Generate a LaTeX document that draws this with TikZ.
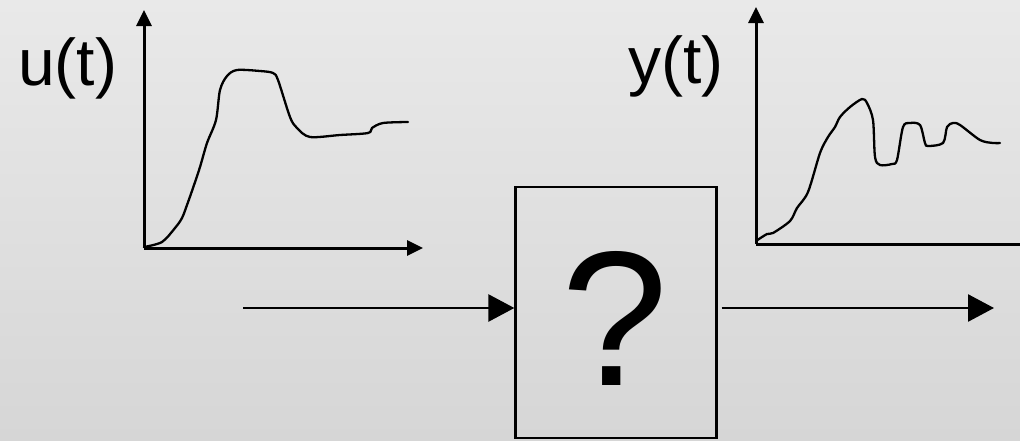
\documentclass[tikz,border=0pt]{standalone}
\usepackage{fontspec}
\setmainfont{Liberation Sans}
\usetikzlibrary{arrows.meta}
\definecolor{bgtop}{HTML}{E9E9E9}
\definecolor{bgbot}{HTML}{D6D6D6}
\begin{document}
\begin{tikzpicture}[x=1pt,y=-1pt,
  axis/.style={line width=3pt,-{Triangle[length=16pt,width=15pt]}},
  sig/.style={line width=2.3pt,line cap=round,line join=round},
  flow/.style={line width=2.6pt,-{Triangle[length=26pt,width=27pt]}},
  blockbox/.style={draw,line width=2.3pt,minimum width=201pt,minimum height=251pt,inner sep=0pt},
  lab/.style={font=\fontsize{66}{66}\selectfont,inner sep=0pt,anchor=base west}]
\useasboundingbox (0,0) rectangle (1020,440);
\shade[top color=bgtop,bottom color=bgbot] (0,0) rectangle (1020,440);
\clip (0,0) rectangle (1020,440);
% labels
\node[lab] (ulab) at (18,85) {u(t)};
\node[lab] (ylab) at (628,83) {y(t)};
% left axes
\coordinate (lo) at (144,248);
\coordinate (ltop) at (144,10);
\coordinate (lright) at (423,248);
\draw[axis] (lo) -- (ltop);
\draw[axis] (lo) -- (lright);
% right axes
\coordinate (ro) at (756,244);
\coordinate (rtop) at (756,7);
\coordinate (rright) at (1036,244);
\draw[axis] (ro) -- (rtop);
\draw[axis] (ro) -- (rright);
% input signal
\draw[sig] plot[smooth,tension=0.5] coordinates {(144,247) (162,242) (175,228) (182,218) (187,205) (193,188) (200,167) (207,143) (216,120) (220,90) (227,76) (237,70) (260,71) (273,73) (278,80) (290,117) (297,128) (310,137) (340,135) (368,133) (372,128) (383,123) (408,122)};
% output signal
\draw[sig] plot[smooth,tension=0.5] coordinates {(756,241) (767,234) (773,233) (790,221) (797,208) (808,192) (820,153) (828,137) (835,127) (840,117) (850,107) (862,99) (867,103) (873,120) (875,157) (880,165) (892,164) (897,160) (903,127) (910,123) (920,125) (925,143) (928,146) (943,143) (947,127) (953,123) (960,125) (980,140) (993,143) (1000,143)};
% block
\node[blockbox] (blk) at (616,312.5) {};
\node[font=\fontsize{192}{192}\selectfont,inner sep=0pt,anchor=base] (q) at (615,385) {?};
% flow arrows
\coordinate (in) at (243,308);
\coordinate (out) at (994,308);
\draw[flow] (in) -- (in -| blk.west);
\draw[flow] (out -| blk.east) ++(4,0) -- (out);
\end{tikzpicture}
\end{document}
